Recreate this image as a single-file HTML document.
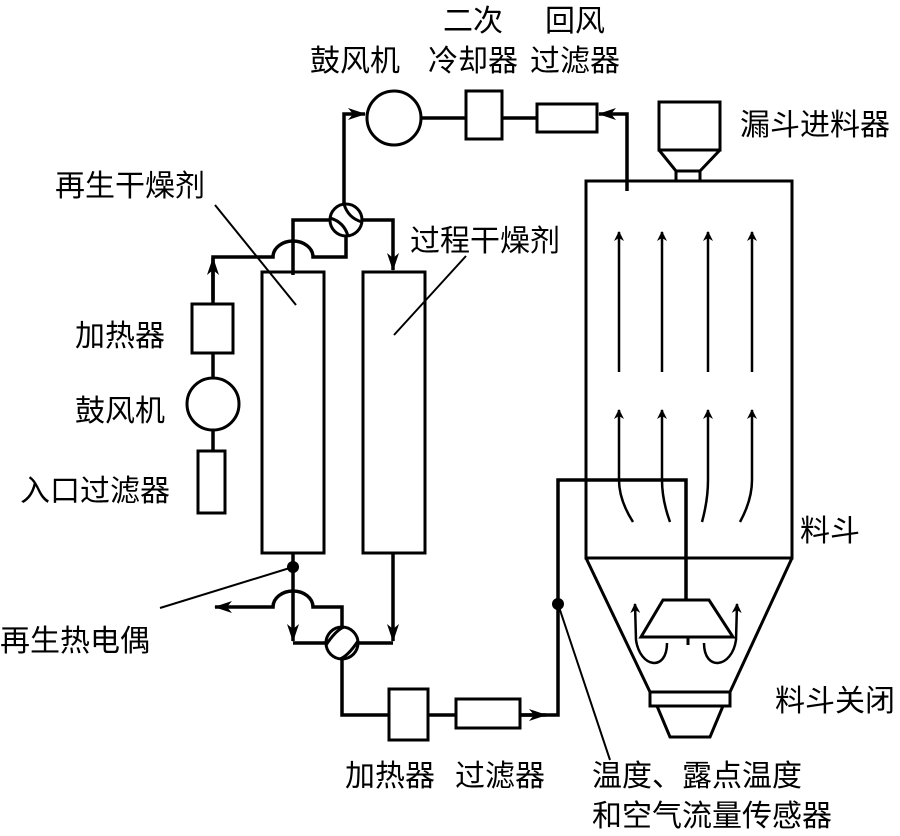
<!DOCTYPE html>
<html><head><meta charset="utf-8"><style>
html,body{margin:0;padding:0;background:#fff}
svg{display:block}
text{font-family:"Liberation Sans","Noto Sans CJK SC",sans-serif;font-size:30px;fill:#000}
</style></head><body>
<svg width="900" height="836" viewBox="0 0 900 836" xmlns="http://www.w3.org/2000/svg">
<defs>
<marker id="a" markerWidth="10" markerHeight="10" refX="9" refY="5" orient="auto" markerUnits="userSpaceOnUse" viewBox="0 0 10 10">
<path d="M0,0 L10,5 L0,10 L3,5 Z" fill="#000"/></marker>
<marker id="b" markerWidth="18" markerHeight="12" refX="17" refY="6" orient="auto" markerUnits="userSpaceOnUse" viewBox="0 0 18 12">
<path d="M0,0 L18,6 L0,12 L5,6 Z" fill="#000"/></marker>
</defs>
<g fill="none" stroke="#000">
<circle cx="394" cy="118" r="27" stroke-width="3"/>
<rect x="466" y="91" width="36" height="48" stroke-width="3"/>
<rect x="537" y="104" width="60" height="28" stroke-width="3"/>
<line x1="421" y1="118" x2="466" y2="118" stroke-width="3.5"/>
<line x1="502" y1="118" x2="537" y2="118" stroke-width="3.5"/>
<path d="M627 191 V114 H599" stroke-width="3.5" marker-end="url(#b)"/>
<path d="M344 205 V114 H365" stroke-width="3.5" marker-end="url(#b)"/>
<circle cx="346" cy="220" r="16" stroke-width="3"/>
<path d="M344 204 Q348 218 362 222" stroke-width="3"/>
<path d="M330 218 Q344 222 348 236" stroke-width="3"/>
<path d="M362 220 H393 V270" stroke-width="3.5" marker-end="url(#b)"/>
<path d="M330 220 H293 V275" stroke-width="3.5"/>
<path d="M346 236 V257 H313 A20 16 0 0 0 273 257 H213 V300" stroke-width="3.5"/>
<path d="M213 304 V258" stroke-width="3.5" marker-end="url(#b)"/>
<rect x="262" y="272" width="62" height="281" stroke-width="3"/>
<rect x="363" y="272" width="62" height="281" stroke-width="3"/>
<rect x="192" y="304" width="41" height="49" stroke-width="3"/>
<line x1="213" y1="353" x2="213" y2="378" stroke-width="3.5"/>
<circle cx="213" cy="404" r="26" stroke-width="3"/>
<line x1="213" y1="430" x2="213" y2="451" stroke-width="3.5"/>
<rect x="198" y="451" width="27" height="62" stroke-width="3"/>
<path d="M293 553 V641" stroke-width="3.5" marker-end="url(#b)"/>
<path d="M293 643 H326" stroke-width="3.5"/>
<path d="M342 627 V607 H313 A20 16 0 0 0 273 607 H215" stroke-width="3.5" marker-end="url(#b)"/>
<path d="M393 553 V641" stroke-width="3.5" marker-end="url(#b)"/>
<path d="M393 643 H358" stroke-width="3.5"/>
<circle cx="342" cy="643" r="16" stroke-width="3"/>
<path d="M326 645 Q336 630 344 627" stroke-width="3"/>
<path d="M340 659 Q348 656 358 641" stroke-width="3"/>
<path d="M342 659 V715 H389" stroke-width="3.5"/>
<rect x="389" y="689" width="39" height="51" stroke-width="3"/>
<line x1="428" y1="715" x2="456" y2="715" stroke-width="3.5"/>
<rect x="456" y="699" width="64" height="29" stroke-width="3"/>
<path d="M520 715 H558 V480 H686 V600" stroke-width="3.5"/>
<path d="M520 715 H546" stroke-width="3.5" marker-end="url(#b)"/>
<path d="M586 558 V181 H792 V558 Z" stroke-width="3"/>
<path d="M586 558 L650 692 M792 558 L730 692" stroke-width="3"/>
<rect x="650" y="692" width="80" height="14" stroke-width="3"/>
<path d="M657 706 L670 737 H710 L723 706" stroke-width="3"/>
<rect x="659" y="102" width="61" height="48" stroke-width="3"/>
<path d="M659 150 L676 171 H700 L720 150" stroke-width="3"/>
<rect x="676" y="171" width="24" height="10" stroke-width="3"/>
<path d="M663 600 H709 L733 637 H641 Z" stroke-width="3"/>
<line x1="688" y1="637" x2="688" y2="645" stroke-width="3"/>
<g stroke-width="2.5">
<path d="M619 372 V232" marker-end="url(#a)"/>
<path d="M662 372 V232" marker-end="url(#a)"/>
<path d="M708 372 V232" marker-end="url(#a)"/>
<path d="M752 372 V232" marker-end="url(#a)"/>
<path d="M633 522 Q619 500 619 480 V410" marker-end="url(#a)"/>
<path d="M670 522 Q662 500 662 480 V410" marker-end="url(#a)"/>
<path d="M702 522 Q708 500 708 480 V410" marker-end="url(#a)"/>
<path d="M740 522 Q752 500 752 480 V410" marker-end="url(#a)"/>
<path d="M667 643 C667 672 640 668 636 640 L635 604" marker-end="url(#a)"/>
<path d="M704 643 C704 672 732 668 736 640 L737 604" marker-end="url(#a)"/>
</g>
<g stroke-width="2">
<line x1="215" y1="205" x2="296" y2="305"/>
<line x1="466" y1="256" x2="394" y2="335"/>
<line x1="293" y1="567" x2="160" y2="608"/>
<line x1="558" y1="604" x2="610" y2="760"/>
</g>
</g>
<circle cx="293" cy="567" r="6" fill="#000"/>
<circle cx="558" cy="604" r="6" fill="#000"/>
<text x="310" y="71">鼓风机</text>
<text x="443" y="31">二次</text>
<text x="428" y="71">冷却器</text>
<text x="545" y="31">回风</text>
<text x="530" y="71">过滤器</text>
<text x="740" y="135">漏斗进料器</text>
<text x="55" y="196">再生干燥剂</text>
<text x="410" y="251">过程干燥剂</text>
<text x="75" y="346">加热器</text>
<text x="75" y="421">鼓风机</text>
<text x="20" y="501">入口过滤器</text>
<text x="800" y="541">料斗</text>
<text x="0" y="651">再生热电偶</text>
<text x="775" y="711">料斗关闭</text>
<text x="345" y="786">加热器</text>
<text x="455" y="786">过滤器</text>
<text x="592" y="786">温度、露点温度</text>
<text x="592" y="826">和空气流量传感器</text>
</svg>
</body></html>
